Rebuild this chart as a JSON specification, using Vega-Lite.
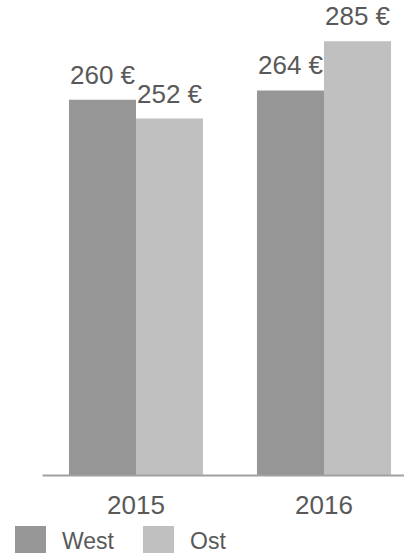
{
  "$schema": "https://vega.github.io/schema/vega-lite/v6.json",
  "width": 376,
  "height": 469,
  "autosize": {"type": "none"},
  "padding": {"left": 42, "top": 6, "right": 0, "bottom": 78},
  "background": "white",
  "config": {"view": {"stroke": null}, "font": "Liberation Sans"},
  "data": {
    "values": [
      {"Jahr": "2015", "Region": "West", "Wert": 260, "Label": "260 €"},
      {"Jahr": "2015", "Region": "Ost", "Wert": 252, "Label": "252 €"},
      {"Jahr": "2016", "Region": "West", "Wert": 264, "Label": "264 €"},
      {"Jahr": "2016", "Region": "Ost", "Wert": 285, "Label": "285 €"}
    ]
  },
  "encoding": {
    "x": {
      "field": "Jahr",
      "type": "nominal",
      "scale": {"paddingInner": 0.287, "paddingOuter": 0.1435},
      "axis": {
        "title": null,
        "labelAngle": 0,
        "ticks": false,
        "tickSize": 0,
        "grid": false,
        "domainColor": "#a0a0a0",
        "domainWidth": 2,
        "labelPadding": 38,
        "labelBaseline": "alphabetic",
        "labelFontSize": 26,
        "labelColor": "#595959",
        "labelFont": "Liberation Sans",
        "zindex": 1
      }
    },
    "xOffset": {"field": "Region", "type": "nominal", "sort": ["West", "Ost"]},
    "y": {
      "field": "Wert",
      "type": "quantitative",
      "scale": {"domain": [100, 300], "zero": false},
      "axis": null
    }
  },
  "layer": [
    {
      "mark": {"type": "bar", "clip": true},
      "encoding": {
        "y2": {"datum": 100},
        "color": {
          "field": "Region",
          "type": "nominal",
          "sort": ["West", "Ost"],
          "scale": {"domain": ["West", "Ost"], "range": ["#969696", "#c0c0c0"]},
          "legend": {
            "title": null,
            "orient": "none",
            "legendX": -27,
            "legendY": 520,
            "direction": "horizontal",
            "symbolType": "square",
            "symbolSize": 961,
            "symbolStrokeWidth": 0,
            "symbolOpacity": 1,
            "labelFontSize": 23,
            "labelColor": "#595959",
            "labelFont": "Liberation Sans",
            "labelOffset": 16,
            "columnPadding": 29,
            "padding": 0
          }
        }
      }
    },
    {
      "mark": {
        "type": "text",
        "baseline": "alphabetic",
        "dy": -16,
        "fontSize": 26,
        "color": "#595959",
        "font": "Liberation Sans"
      },
      "encoding": {"text": {"field": "Label"}}
    }
  ]
}
